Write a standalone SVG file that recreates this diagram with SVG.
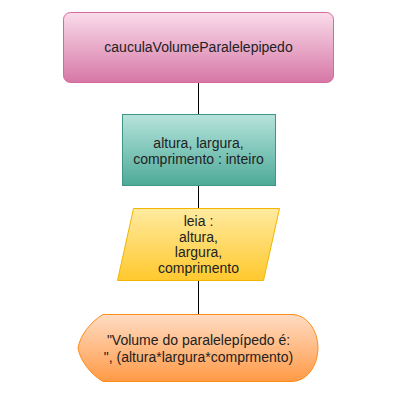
<svg xmlns="http://www.w3.org/2000/svg" width="403" height="412" viewBox="0 0 403 412">
<defs>
<linearGradient id="gPink" x1="0" y1="0" x2="0" y2="1"><stop offset="0" stop-color="#fadcea"/><stop offset="1" stop-color="#d677a6"/></linearGradient>
<linearGradient id="gTeal" x1="0" y1="0" x2="0" y2="1"><stop offset="0" stop-color="#b6e3dc"/><stop offset="1" stop-color="#4daa98"/></linearGradient>
<linearGradient id="gYel" x1="0" y1="0" x2="0" y2="1"><stop offset="0" stop-color="#ffeaa0"/><stop offset="1" stop-color="#ffc92e"/></linearGradient>
<linearGradient id="gOr" x1="0" y1="0" x2="0" y2="1"><stop offset="0" stop-color="#ffdcc4"/><stop offset="1" stop-color="#ff9a46"/></linearGradient>
</defs>
<style>
text{font-family:"Liberation Sans",Arial,sans-serif;font-size:14px;fill:#222;text-anchor:middle}
.conn{stroke:#000;stroke-width:1;fill:none}
</style>
<rect width="403" height="412" fill="#fff"/>
<g id="connectors">
<line class="conn" x1="198.5" y1="82" x2="198.5" y2="114"/>
<line class="conn" x1="198.5" y1="185" x2="198.5" y2="208"/>
<line class="conn" x1="198.5" y1="280" x2="198.5" y2="314"/>
</g>
<g id="start">
<rect x="63.5" y="12.5" width="270" height="70" rx="7" fill="url(#gPink)" stroke="#d5689c"/>
<text x="198.5" y="52">cauculaVolumeParalelepipedo</text>
</g>
<g id="decl">
<rect x="122.5" y="114.5" width="153" height="71" fill="url(#gTeal)" stroke="#3d9784"/>
<text x="198.5" y="148">altura, largura,</text>
<text x="198.5" y="164">comprimento : inteiro</text>
</g>
<g id="input">
<polygon points="133.5,208.5 279.5,208.5 263.5,280.5 117.5,280.5" fill="url(#gYel)" stroke="#f2b500"/>
<text x="198.5" y="226">leia :</text>
<text x="198.5" y="242">altura,</text>
<text x="198.5" y="257">largura,</text>
<text x="198.5" y="273">comprimento</text>
</g>
<g id="output">
<path d="M103,314.5 L292,314.5 A26,33.5 0 0 1 292,381.5 L103,381.5 C90,374 80,360 78,348 C80,336 90,322 103,314.5 Z" fill="url(#gOr)" stroke="#ff8c1a"/>
<text x="198.5" y="345">"Volume do paralelepípedo é:</text>
<text x="198.5" y="362">", (altura*largura*comprmento)</text>
</g>
</svg>
